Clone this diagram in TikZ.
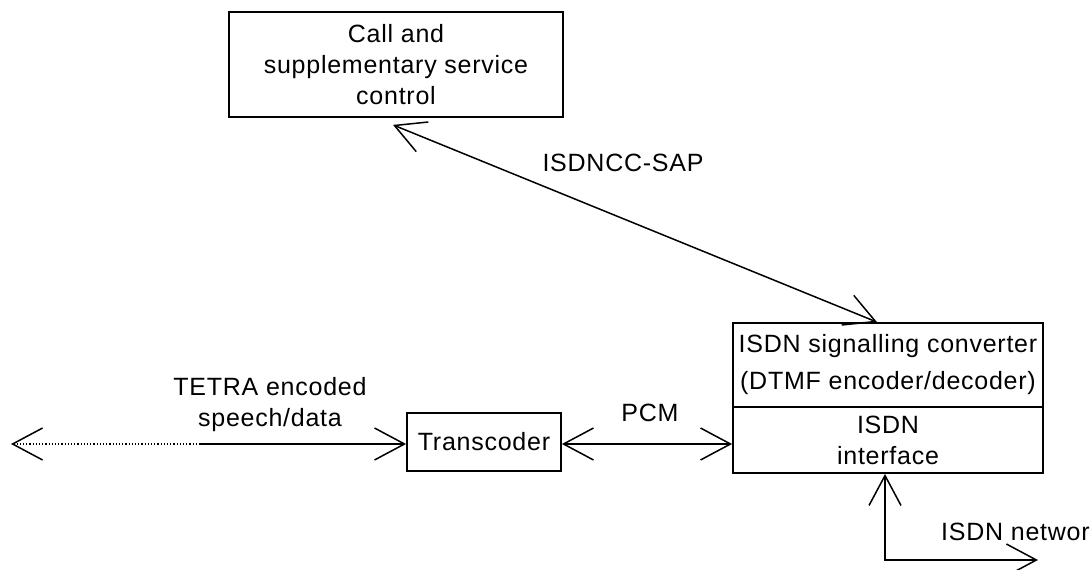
\documentclass[tikz,border=0pt]{standalone}
\usepackage{fontspec}
\setmainfont{Liberation Sans}[LetterSpace=3]
\usetikzlibrary{arrows.meta,calc}
\tikzset{
  box/.style={draw,line width=1.8pt,inner sep=0pt,align=center,font=\fontsize{25}{31}\selectfont},
  lbl/.style={inner sep=0pt,align=center,font=\fontsize{25}{31}\selectfont},
  barb/.tip={Straight Barb[length=30pt,width=32pt,line width=1.5pt]},
  conn/.style={line width=1.5pt,barb-barb},
}
\begin{document}
\begin{tikzpicture}[x=1pt,y=-1pt]
\useasboundingbox (0,0) rectangle (1090,570);
\node[box,minimum width=334pt,minimum height=105pt] (call) at (396,64.5) {Call and\\supplementary service\\control};
\node[box,minimum width=154pt,minimum height=58pt] (trans) at (484,442) {Transcoder};
\node[box,minimum width=310pt,minimum height=84pt,font=\fontsize{25}{37}\selectfont] (conv) at (888,365) {ISDN signalling converter\\(DTMF encoder/decoder)};
\node[box,minimum width=310pt,minimum height=66pt] (iface) at (888,440) {ISDN\\interface};
\coordinate (a1) at ($(call.south)+(-3,7)$);
\coordinate (a2) at ($(conv.north)+(-11,0)$);
\draw[conn] (a1) -- (a2);
\node[lbl] (sap) at (623,163) {ISDNCC-SAP};
\coordinate (far) at (11,444);
\coordinate (mid) at (200,444);
\draw[line width=1.2pt,dotted,barb-] (far) -- (mid);
\draw[line width=1.5pt,-barb] (mid) -- (trans.west |- mid);
\node[lbl] (tetra) at (270,405) {TETRA encoded\\speech/data};
\draw[conn] (trans.east |- mid) -- (iface.west |- mid);
\node[lbl] (pcm) at (650,413) {PCM};
\coordinate (corner) at (885,560);
\coordinate (net) at (1038,560);
\draw[conn] (iface.south -| corner) -- (corner) -- (net);
\node[lbl,anchor=west] (isdnnet) at (941,532) {ISDN networ};
\end{tikzpicture}
\end{document}
